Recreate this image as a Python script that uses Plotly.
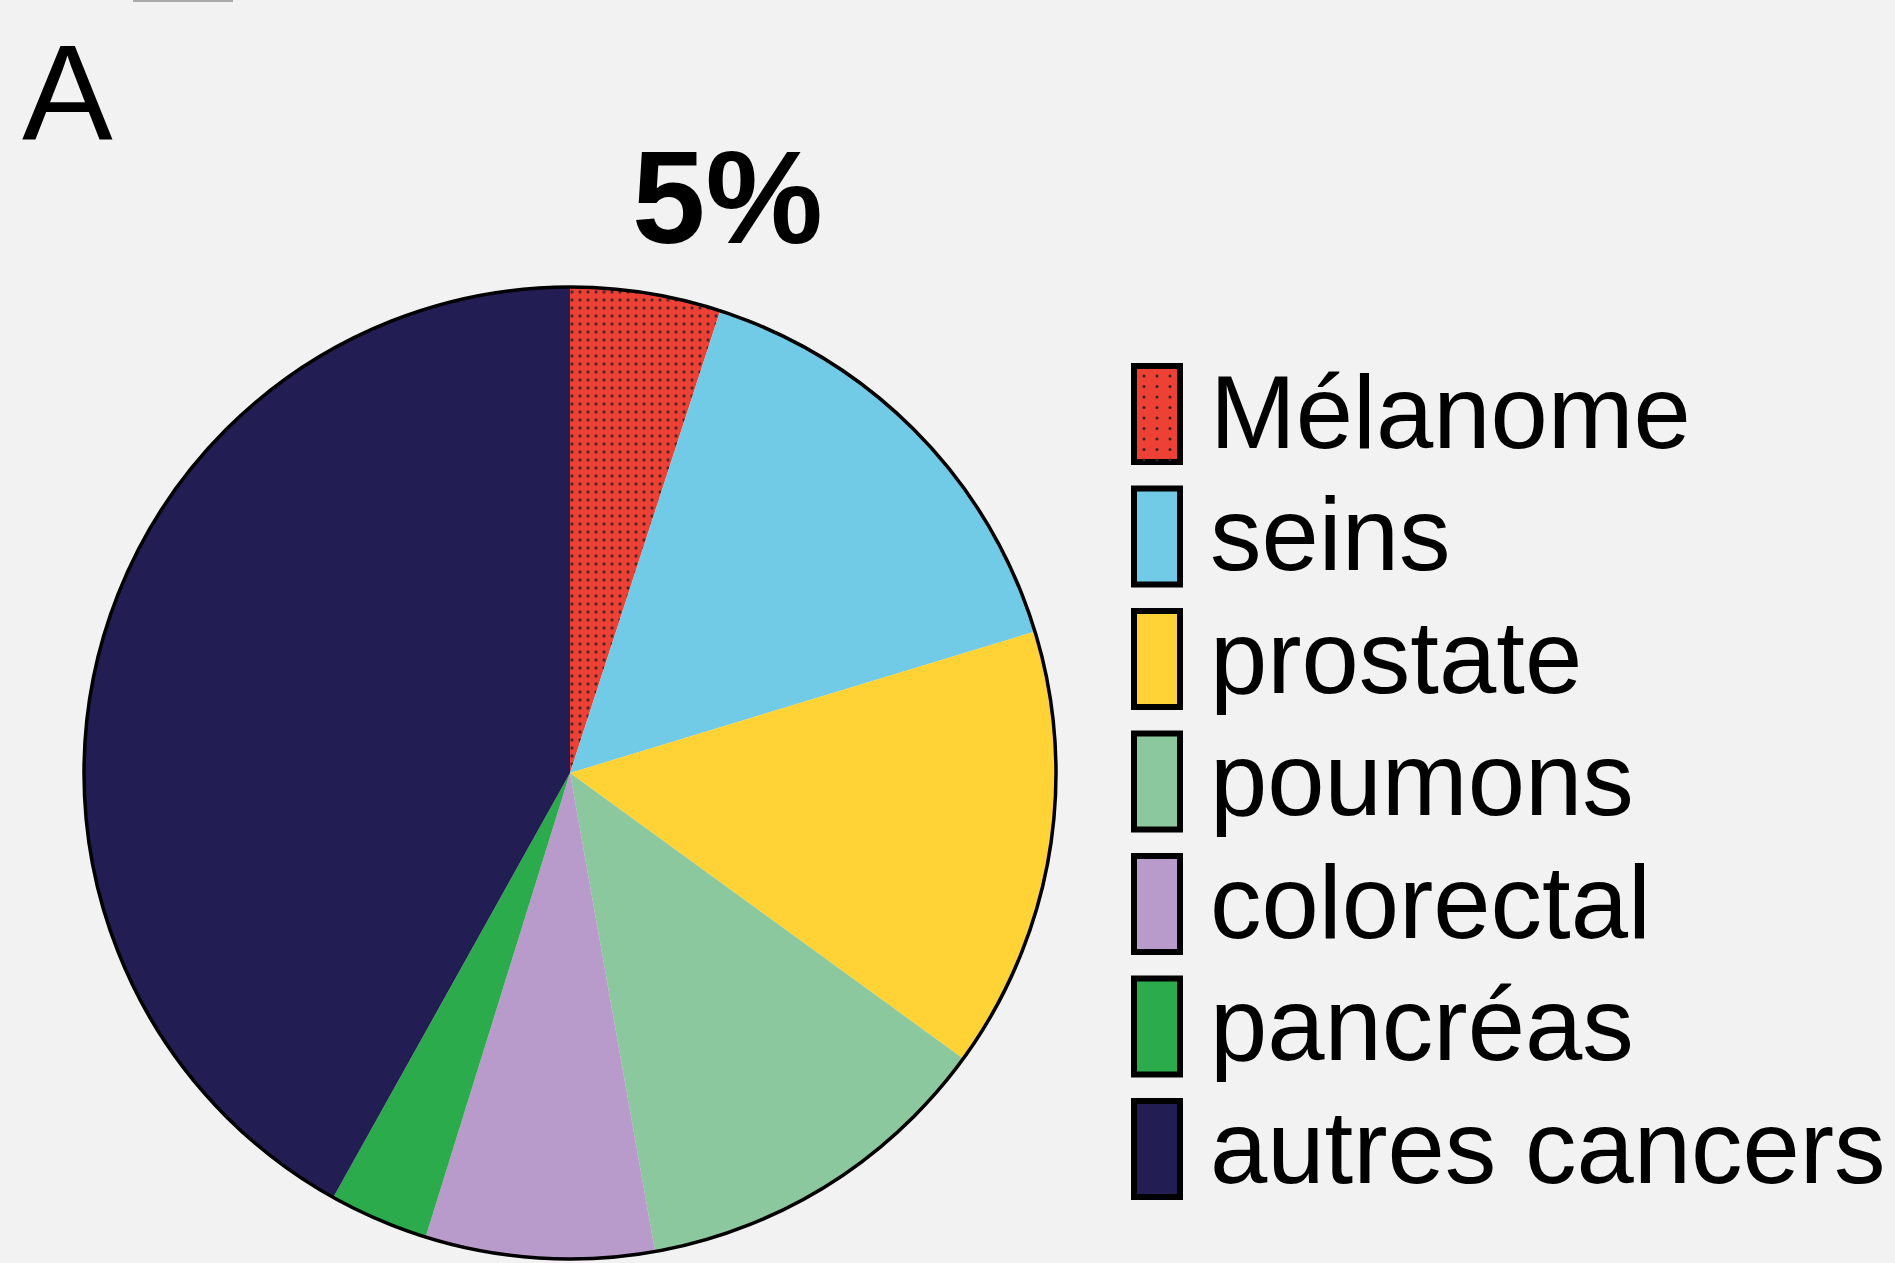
import plotly.graph_objects as go

W, H = 1895, 1263

categories = ["Mélanome", "seins", "prostate", "poumons", "colorectal", "pancréas", "autres cancers"]
values = [5.0, 15.3, 14.7, 12.2, 7.6, 3.3, 41.9]
colors = ["#EE4136", "#72CBE6", "#FFD335", "#8CC89E", "#B89BCA", "#2BAB4C", "#221D52"]
patterns = [".", "", "", "", "", "", ""]
highlight_label = "5%"
panel_label = "A"

BG = "#F2F2F2"

def px(x):
    return x / W

def py(y):
    return 1 - y / H

cx, cy, r = 570, 773, 486
dom_x = [px(cx - r), px(cx + r)]
dom_y = [py(cy + r), py(cy - r)]

fig = go.Figure()
fig.add_trace(go.Pie(
    labels=categories, values=values, sort=False, direction="clockwise", rotation=0,
    marker=dict(colors=colors, line=dict(width=0),
                pattern=dict(shape=patterns, fillmode="overlay", fgcolor="#3a2222",
                             fgopacity=0.85, size=8, solidity=0.13)),
    textinfo="none", hoverinfo="label+percent", showlegend=False,
    domain=dict(x=dom_x, y=dom_y),
))
# outer black rim
fig.add_trace(go.Pie(
    values=[1], labels=["rim"], sort=False, textinfo="none", hoverinfo="skip",
    marker=dict(colors=["rgba(0,0,0,0)"], line=dict(color="black", width=3.5)),
    showlegend=False, domain=dict(x=dom_x, y=dom_y),
))

shapes = []
annotations = []

# legend (manual, large swatches)
box_x0, box_x1 = 1134, 1180
top0, step, bh = 366, 122.5, 96
for i, (name, col) in enumerate(zip(categories, colors)):
    t = top0 + i * step
    shapes.append(dict(type="rect", xref="paper", yref="paper", layer="below",
                       x0=px(box_x0), x1=px(box_x1), y0=py(t + bh), y1=py(t),
                       fillcolor=col, line=dict(color="black", width=6)))
    annotations.append(dict(text=name, xref="paper", yref="paper",
                            x=px(1208), y=py(t + bh / 2 - 2), xanchor="left", yanchor="middle",
                            showarrow=False,
                            font=dict(family="Liberation Sans, Arial", size=103, color="black")))

# dots on the Mélanome legend swatch
dot_x, dot_y = [], []
for row in range(9):
    for colm in range(3):
        dot_x.append(px(box_x0 + 10 + colm * 13))
        dot_y.append(py(top0 + 10 + row * 10.5))
fig.add_trace(go.Scatter(x=dot_x, y=dot_y, mode="markers", xaxis="x", yaxis="y",
                         marker=dict(size=3, color="#3a2222"), hoverinfo="skip", showlegend=False))

# small grey line at top-left
shapes.append(dict(type="line", xref="paper", yref="paper", x0=px(133), x1=px(233),
                   y0=py(1), y1=py(1), line=dict(color="#AAAAAA", width=2)))

annotations.append(dict(text=panel_label, xref="paper", yref="paper", x=px(20), y=py(92),
                        xanchor="left", yanchor="middle", showarrow=False,
                        font=dict(family="Liberation Sans, Arial", size=136, color="black")))
annotations.append(dict(text="<b>" + highlight_label + "</b>", xref="paper", yref="paper",
                        x=px(727), y=py(197), xanchor="center", yanchor="middle", showarrow=False,
                        font=dict(family="Liberation Sans, Arial", size=132, color="black")))

fig.update_layout(
    width=W, height=H, paper_bgcolor=BG, plot_bgcolor="rgba(0,0,0,0)",
    margin=dict(l=0, r=0, t=0, b=0),
    xaxis=dict(range=[0, 1], visible=False, domain=[0, 1], fixedrange=True),
    yaxis=dict(range=[0, 1], visible=False, domain=[0, 1], fixedrange=True),
    shapes=shapes, annotations=annotations, showlegend=False,
)

fig.write_html("out.html", config={"displayModeBar": False},
               post_script="document.body.style.margin='0';document.body.style.background='#F2F2F2';document.body.style.overflow='hidden';")
